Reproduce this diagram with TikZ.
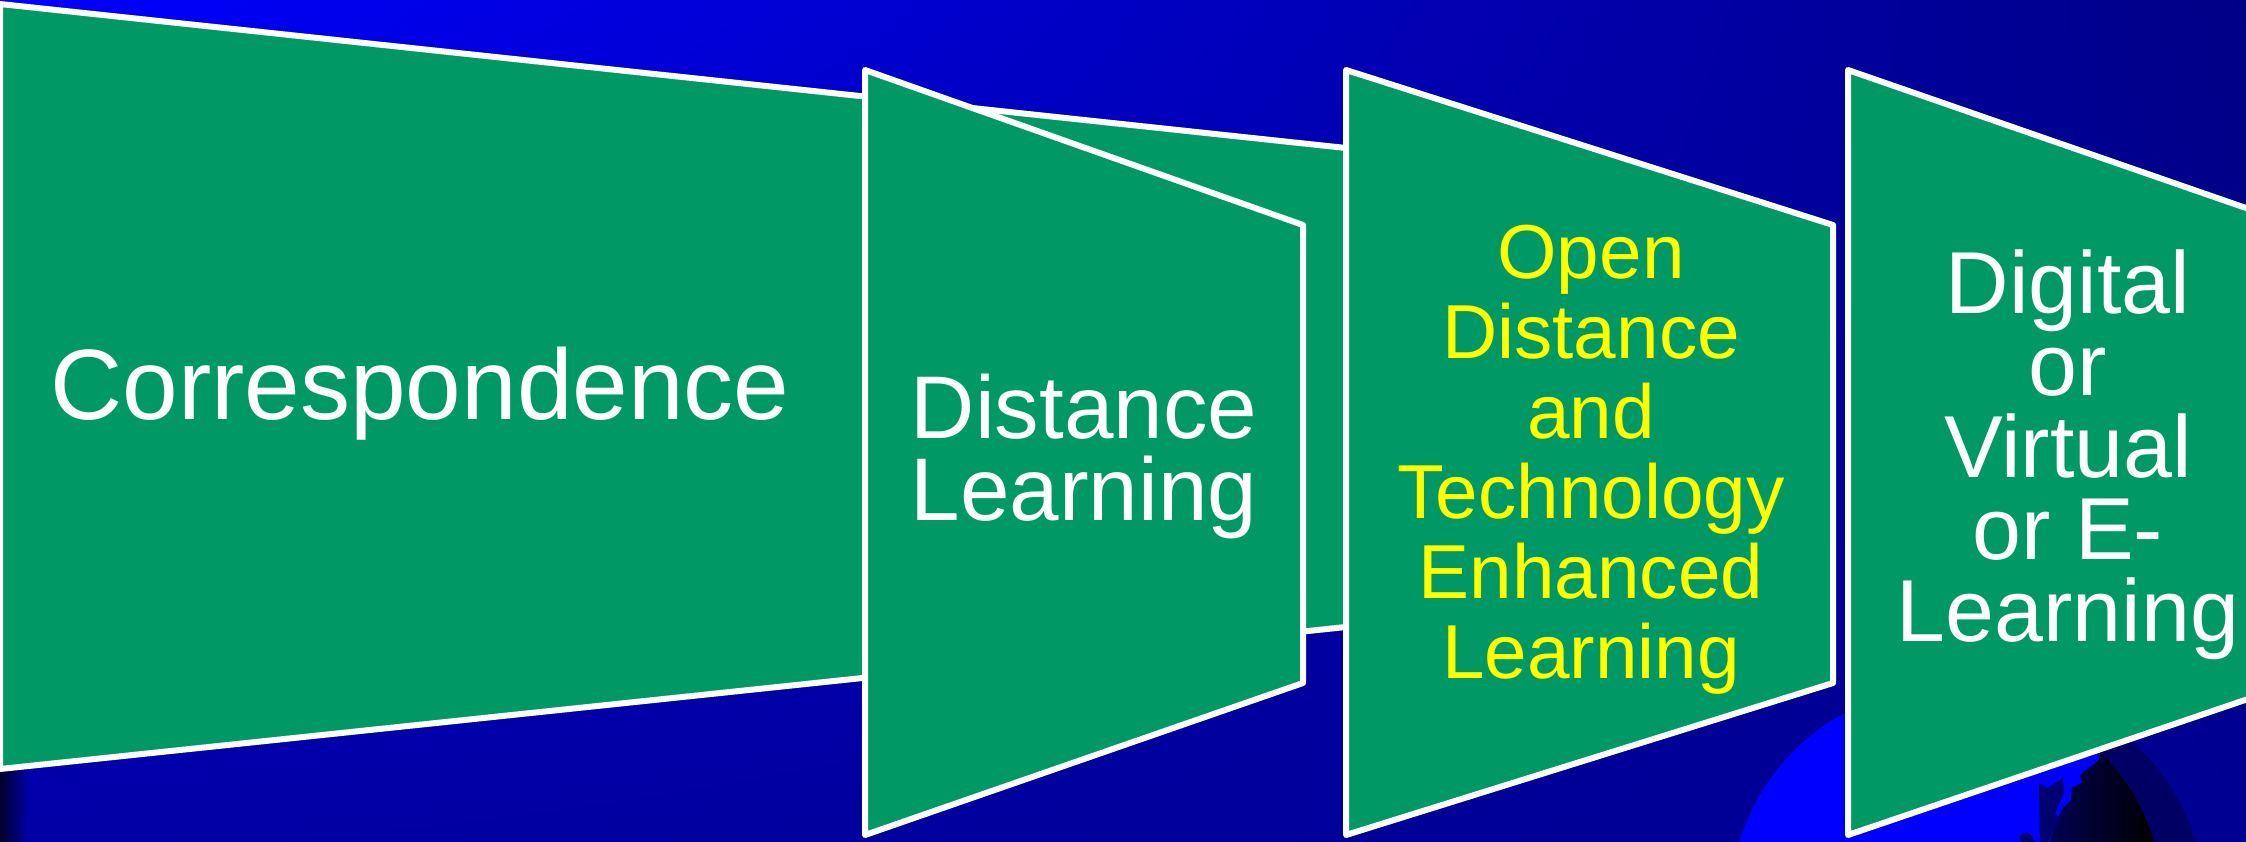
\documentclass[tikz,border=0pt]{standalone}
\usepackage{fontspec}
\setmainfont{Liberation Sans}
\usetikzlibrary{shadings}
\definecolor{shapegreen}{RGB}{0,153,102}
\definecolor{bgA}{RGB}{0,0,255}
\definecolor{bgB}{RGB}{0,0,135}
\definecolor{bgC}{RGB}{0,0,165}
\definecolor{bgD}{RGB}{0,0,145}
\definecolor{stripdark}{RGB}{0,0,40}
\definecolor{globeblue}{RGB}{0,0,255}
\definecolor{ringnavy}{RGB}{0,0,100}
\definecolor{landnavy}{RGB}{0,0,110}
\definecolor{nightblue}{RGB}{0,0,85}
\definecolor{txtyellow}{RGB}{255,255,0}
\begin{document}
\begin{tikzpicture}[x=1pt,y=-1pt,
  panel/.style={fill=shapegreen,draw=white,line width=6pt,line join=round},
  paneltext/.style={text=white,align=center,inner sep=0pt}]
\useasboundingbox (0,0) rectangle (2246,841);
\begin{scope}
\clip (0,0) rectangle (2246,841);
% background
\shade[upper left=bgA,upper right=bgB,lower left=bgC,lower right=bgD] (0,0) rectangle (2246,841);
\shade[left color=stripdark,right color=bgC] (0,760) rectangle (28,841);
% globe
\fill[ringnavy] (1985,905) circle (220);
\fill[globeblue] (1947,904) circle (216.5);
\begin{scope}
\clip (1947,904) circle (216.5);
\clip (2105,700) -- (2099,760) -- (2080,775) -- (2082,783) -- (2072,787) -- (2071,800) -- (2063,808) -- (2057,820) -- (2050,841) -- (2045,870) -- (2300,870) -- (2300,700) -- cycle;
\shade[left color=nightblue,right color=black] (2045,650) rectangle (2155,880);
\end{scope}
\fill[landnavy] (2039,783) -- (2048,788) -- (2063,778) -- (2064,793) -- (2059,804) -- (2055,814) -- (2060,819) -- (2055,830) -- (2048,842) -- (2038,844) -- (2034,840) -- (2031,835) -- (2026,832) -- (2019,837) -- (2024,849) -- (2040,850) -- cycle;
% panels
\draw[panel] (0,4) -- (1346,148) -- (1346,627) -- (0,769) -- cycle;
\draw[panel] (865,70) -- (1303,225) -- (1303,683) -- (865,835) -- cycle;
\draw[panel] (1346,70) -- (1833,225) -- (1833,683) -- (1346,835) -- cycle;
\draw[panel] (1848,70) -- (2295,225) -- (2295,683) -- (1848,835) -- cycle;
% texts
\node[paneltext,font={\fontsize{100pt}{100pt}\selectfont}] (corr) at (420,394) {Correspondence};
\node[paneltext,font={\fontsize{89pt}{82pt}\selectfont}] (dist) at (1084,456) {Distance\\Learning};
\node[paneltext,text=txtyellow,font={\fontsize{76.5pt}{80pt}\selectfont}] (open) at (1591,460) {Open\\Distance\\and\\Technology\\Enhanced\\Learning};
\node[paneltext,font={\fontsize{88pt}{82pt}\selectfont}] (digi) at (2068,455) {Digital\\or\\Virtual\\or E-\\Learning};
\end{scope}
\end{tikzpicture}
\end{document}
